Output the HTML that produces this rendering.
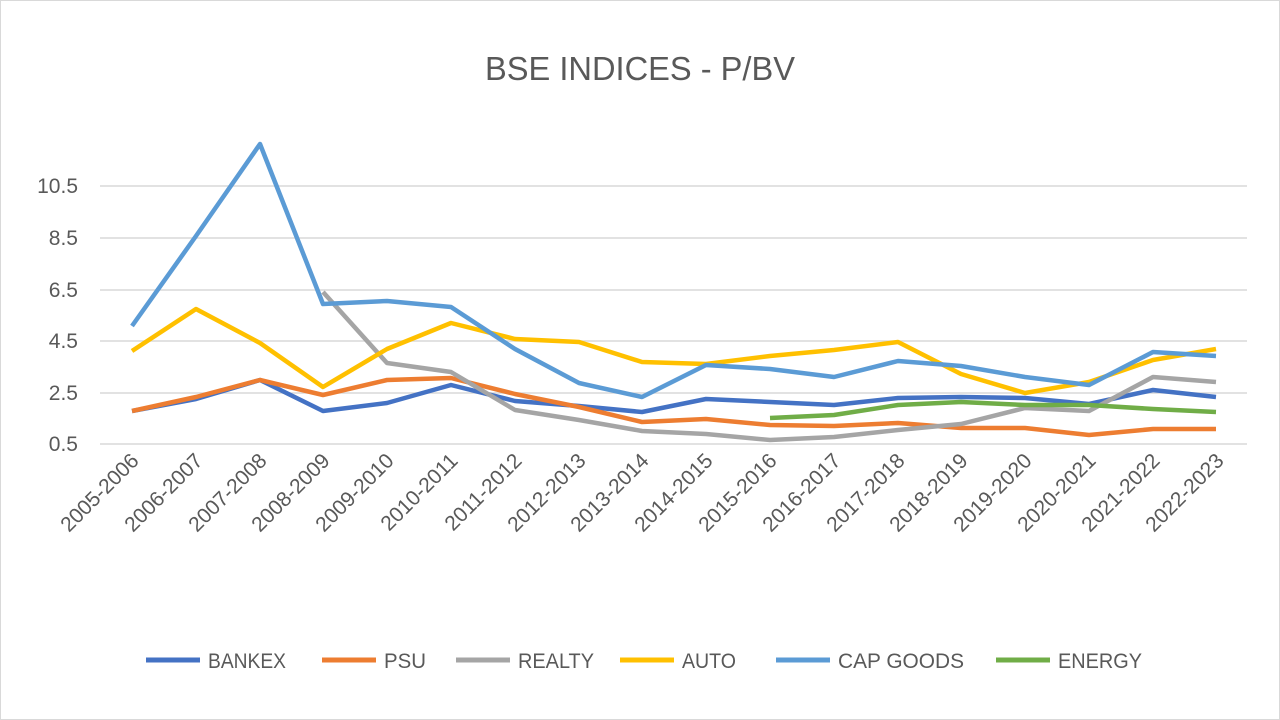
<!DOCTYPE html>
<html><head><meta charset="utf-8"><style>
body{margin:0;background:#fff}
svg{display:block;font-family:"Liberation Sans",sans-serif}
</style></head><body>
<svg width="1280" height="720" viewBox="0 0 1280 720">
<rect x="0.5" y="0.5" width="1279" height="719" fill="#fff" stroke="#d9d9d9"/>
<text x="640" y="80" text-anchor="middle" font-size="33" fill="#595959" textLength="310" lengthAdjust="spacingAndGlyphs">BSE INDICES - P/BV</text>
<g stroke="#d9d9d9" stroke-width="1.5">
<line x1="100" x2="1247" y1="186" y2="186"/><line x1="100" x2="1247" y1="238" y2="238"/>
<line x1="100" x2="1247" y1="290" y2="290"/><line x1="100" x2="1247" y1="341" y2="341"/>
<line x1="100" x2="1247" y1="393" y2="393"/><line x1="100" x2="1247" y1="444" y2="444"/>
</g>
<g font-size="21" fill="#595959" text-anchor="end">
<text x="78" y="193">10.5</text><text x="78" y="245">8.5</text><text x="78" y="297">6.5</text>
<text x="78" y="348">4.5</text><text x="78" y="400">2.5</text><text x="78" y="451">0.5</text>
</g>
<g font-size="21" fill="#595959" text-anchor="end">
<text transform="translate(140,462) rotate(-45)">2005-2006</text>
<text transform="translate(204,462) rotate(-45)">2006-2007</text>
<text transform="translate(268,462) rotate(-45)">2007-2008</text>
<text transform="translate(331,462) rotate(-45)">2008-2009</text>
<text transform="translate(395,462) rotate(-45)">2009-2010</text>
<text transform="translate(459,462) rotate(-45)">2010-2011</text>
<text transform="translate(523,462) rotate(-45)">2011-2012</text>
<text transform="translate(587,462) rotate(-45)">2012-2013</text>
<text transform="translate(650,462) rotate(-45)">2013-2014</text>
<text transform="translate(714,462) rotate(-45)">2014-2015</text>
<text transform="translate(778,462) rotate(-45)">2015-2016</text>
<text transform="translate(842,462) rotate(-45)">2016-2017</text>
<text transform="translate(906,462) rotate(-45)">2017-2018</text>
<text transform="translate(969,462) rotate(-45)">2018-2019</text>
<text transform="translate(1033,462) rotate(-45)">2019-2020</text>
<text transform="translate(1097,462) rotate(-45)">2020-2021</text>
<text transform="translate(1161,462) rotate(-45)">2021-2022</text>
<text transform="translate(1225,462) rotate(-45)">2022-2023</text>
</g>
<g fill="none" stroke-width="4.5" stroke-linejoin="round">
<polyline stroke="#4472c4" points="132,411 196,399 260,380 323,411 387,403 451,385 515,401 579,406 642,412 706,399 770,402 834,405 898,398 961,397 1025,398 1089,404 1153,390 1216,397"/>
<polyline stroke="#ed7d31" points="132,411 196,397 260,380 323,395 387,380 451,378 515,394 579,407 642,422 706,419 770,425 834,426 898,423 961,428 1025,428 1089,435 1153,429 1216,429"/>
<polyline stroke="#a5a5a5" points="323,292 387,363 451,372 515,410 579,420 642,431 706,434 770,440 834,437 898,430 961,424 1025,408 1089,411 1153,377 1216,382"/>
<polyline stroke="#ffc000" points="132,351 196,309 260,343 323,387 387,349 451,323 515,339 579,342 642,362 706,364 770,356 834,350 898,342 961,374 1025,393 1089,382 1153,360 1216,349"/>
<polyline stroke="#5b9bd5" points="132,326 196,236 260,144 323,304 387,301 451,307 515,349 579,383 642,397 706,365 770,369 834,377 898,361 961,366 1025,377 1089,385 1153,352 1216,356"/>
<polyline stroke="#70ad47" points="770,418 834,415 898,405 961,402 1025,405 1089,405 1153,409 1216,412"/>
</g>
<g font-size="21" fill="#595959" stroke-width="5">
<line x1="146" x2="200" y1="660" y2="660" stroke="#4472c4"/><text x="208" y="668" textLength="78" lengthAdjust="spacingAndGlyphs">BANKEX</text>
<line x1="322" x2="376" y1="660" y2="660" stroke="#ed7d31"/><text x="384" y="668" textLength="42" lengthAdjust="spacingAndGlyphs">PSU</text>
<line x1="456" x2="510" y1="660" y2="660" stroke="#a5a5a5"/><text x="518" y="668" textLength="76" lengthAdjust="spacingAndGlyphs">REALTY</text>
<line x1="620" x2="674" y1="660" y2="660" stroke="#ffc000"/><text x="682" y="668" textLength="54" lengthAdjust="spacingAndGlyphs">AUTO</text>
<line x1="776" x2="830" y1="660" y2="660" stroke="#5b9bd5"/><text x="838" y="668" textLength="126" lengthAdjust="spacingAndGlyphs">CAP GOODS</text>
<line x1="996" x2="1050" y1="660" y2="660" stroke="#70ad47"/><text x="1058" y="668" textLength="84" lengthAdjust="spacingAndGlyphs">ENERGY</text>
</g>
</svg>
</body></html>
